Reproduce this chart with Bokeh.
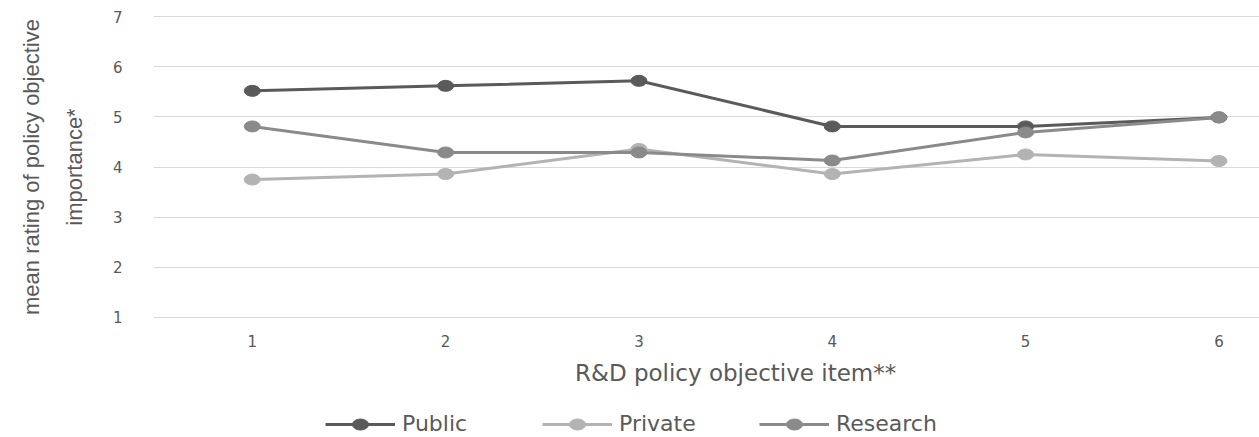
from bokeh.plotting import figure
from bokeh.layouts import column
from bokeh.models import (Range1d, FixedTicker, Legend, LegendItem, Label, Title,
                          ColumnDataSource)
from bokeh.embed import file_html
from bokeh.resources import INLINE

# mean ratings per R&D policy objective item, by sector
items = [1, 2, 3, 4, 5, 6]
public = [5.52, 5.62, 5.72, 4.81, 4.81, 4.99]
private = [3.75, 3.86, 4.36, 3.86, 4.25, 4.12]
research = [4.81, 4.29, 4.29, 4.13, 4.69, 4.99]

series = [
    ("Public", public, "#5a5a5a"),
    ("Private", private, "#b3b3b3"),
    ("Research", research, "#8a8a8a"),
]
y_ticks = [1, 2, 3, 4, 5, 6, 7]

TEXT = "#595959"
FONT = "DejaVu Sans"
TITLE_FONT = "Liberation Sans"

W = 1259
x_range = Range1d(0.489, 6.21)

p = figure(width=W, height=352, output_backend="svg", toolbar_location=None,
           x_range=x_range, y_range=Range1d(0.976, 7.024),
           min_border_left=153, min_border_right=0, min_border_top=15,
           min_border_bottom=34)
p.outline_line_color = None
p.background_fill_color = "white"
p.border_fill_color = "white"

p.xgrid.visible = False
p.ygrid.grid_line_color = "#d9d9d9"
p.ygrid.grid_line_width = 1

p.xaxis.ticker = FixedTicker(ticks=items)
p.yaxis.ticker = FixedTicker(ticks=y_ticks)
for ax in (p.xaxis[0], p.yaxis[0]):
    ax.axis_line_color = None
    ax.major_tick_line_color = None
    ax.minor_tick_line_color = None
    ax.major_label_text_color = TEXT
    ax.major_label_text_font = FONT
    ax.major_label_text_font_size = "15px"
p.xaxis.major_label_standoff = 10
p.yaxis.major_label_standoff = 25

p.yaxis.axis_label = "importance*"
p.yaxis.axis_label_text_font = TITLE_FONT
p.yaxis.axis_label_text_font_size = "22px"
p.yaxis.axis_label_text_font_style = "normal"
p.yaxis.axis_label_text_color = TEXT
p.yaxis.axis_label_standoff = 23

p.add_layout(Title(text="mean rating of policy objective", align="center",
                   text_font=TITLE_FONT, text_font_size="22px",
                   text_font_style="normal", text_color=TEXT, standoff=30),
             "left")

# strip below the plot (frames are aligned by the column) for x title and legend
q = figure(width=W, height=85, output_backend="svg", toolbar_location=None,
           x_range=x_range, y_range=Range1d(0, 1),
           x_axis_location=None, y_axis_location=None,
           min_border_left=153, min_border_right=0, min_border_top=0,
           min_border_bottom=0)
q.outline_line_color = None
q.grid.visible = False
q.background_fill_color = "white"
q.border_fill_color = "white"

legend_items = []
for name, vals, color in series:
    src = ColumnDataSource(dict(x=items, y=vals))
    p.line("x", "y", source=src, line_color=color, line_width=3)
    p.ellipse("x", "y", source=src, width=16, height=11,
              width_units="screen", height_units="screen",
              fill_color=color, line_color=color)
    # same series in the strip (outside its y range) to supply legend glyphs
    ln = q.line("x", "y", source=src, line_color=color, line_width=3)
    mk = q.ellipse("x", "y", source=src, width=16, height=11,
                   width_units="screen", height_units="screen",
                   fill_color=color, line_color=color)
    legend_items.append(LegendItem(label=name, renderers=[ln, mk]))

q.add_layout(Label(x=3.5, y=65, x_units="data", y_units="screen",
                   text="R&D policy objective item**", text_align="center",
                   text_baseline="middle", text_font=FONT,
                   text_font_size="23px", text_color=TEXT))

legend = Legend(items=legend_items, orientation="horizontal",
                location=(172, 1), glyph_width=70, glyph_height=20,
                label_standoff=7, label_width=115, spacing=25,
                padding=0, margin=0,
                border_line_color=None, background_fill_alpha=0,
                label_text_font=FONT, label_text_font_size="22px",
                label_text_color=TEXT)
q.add_layout(legend)

layout = column(p, q, spacing=0)
open("out.html", "w").write(file_html(layout, INLINE))
